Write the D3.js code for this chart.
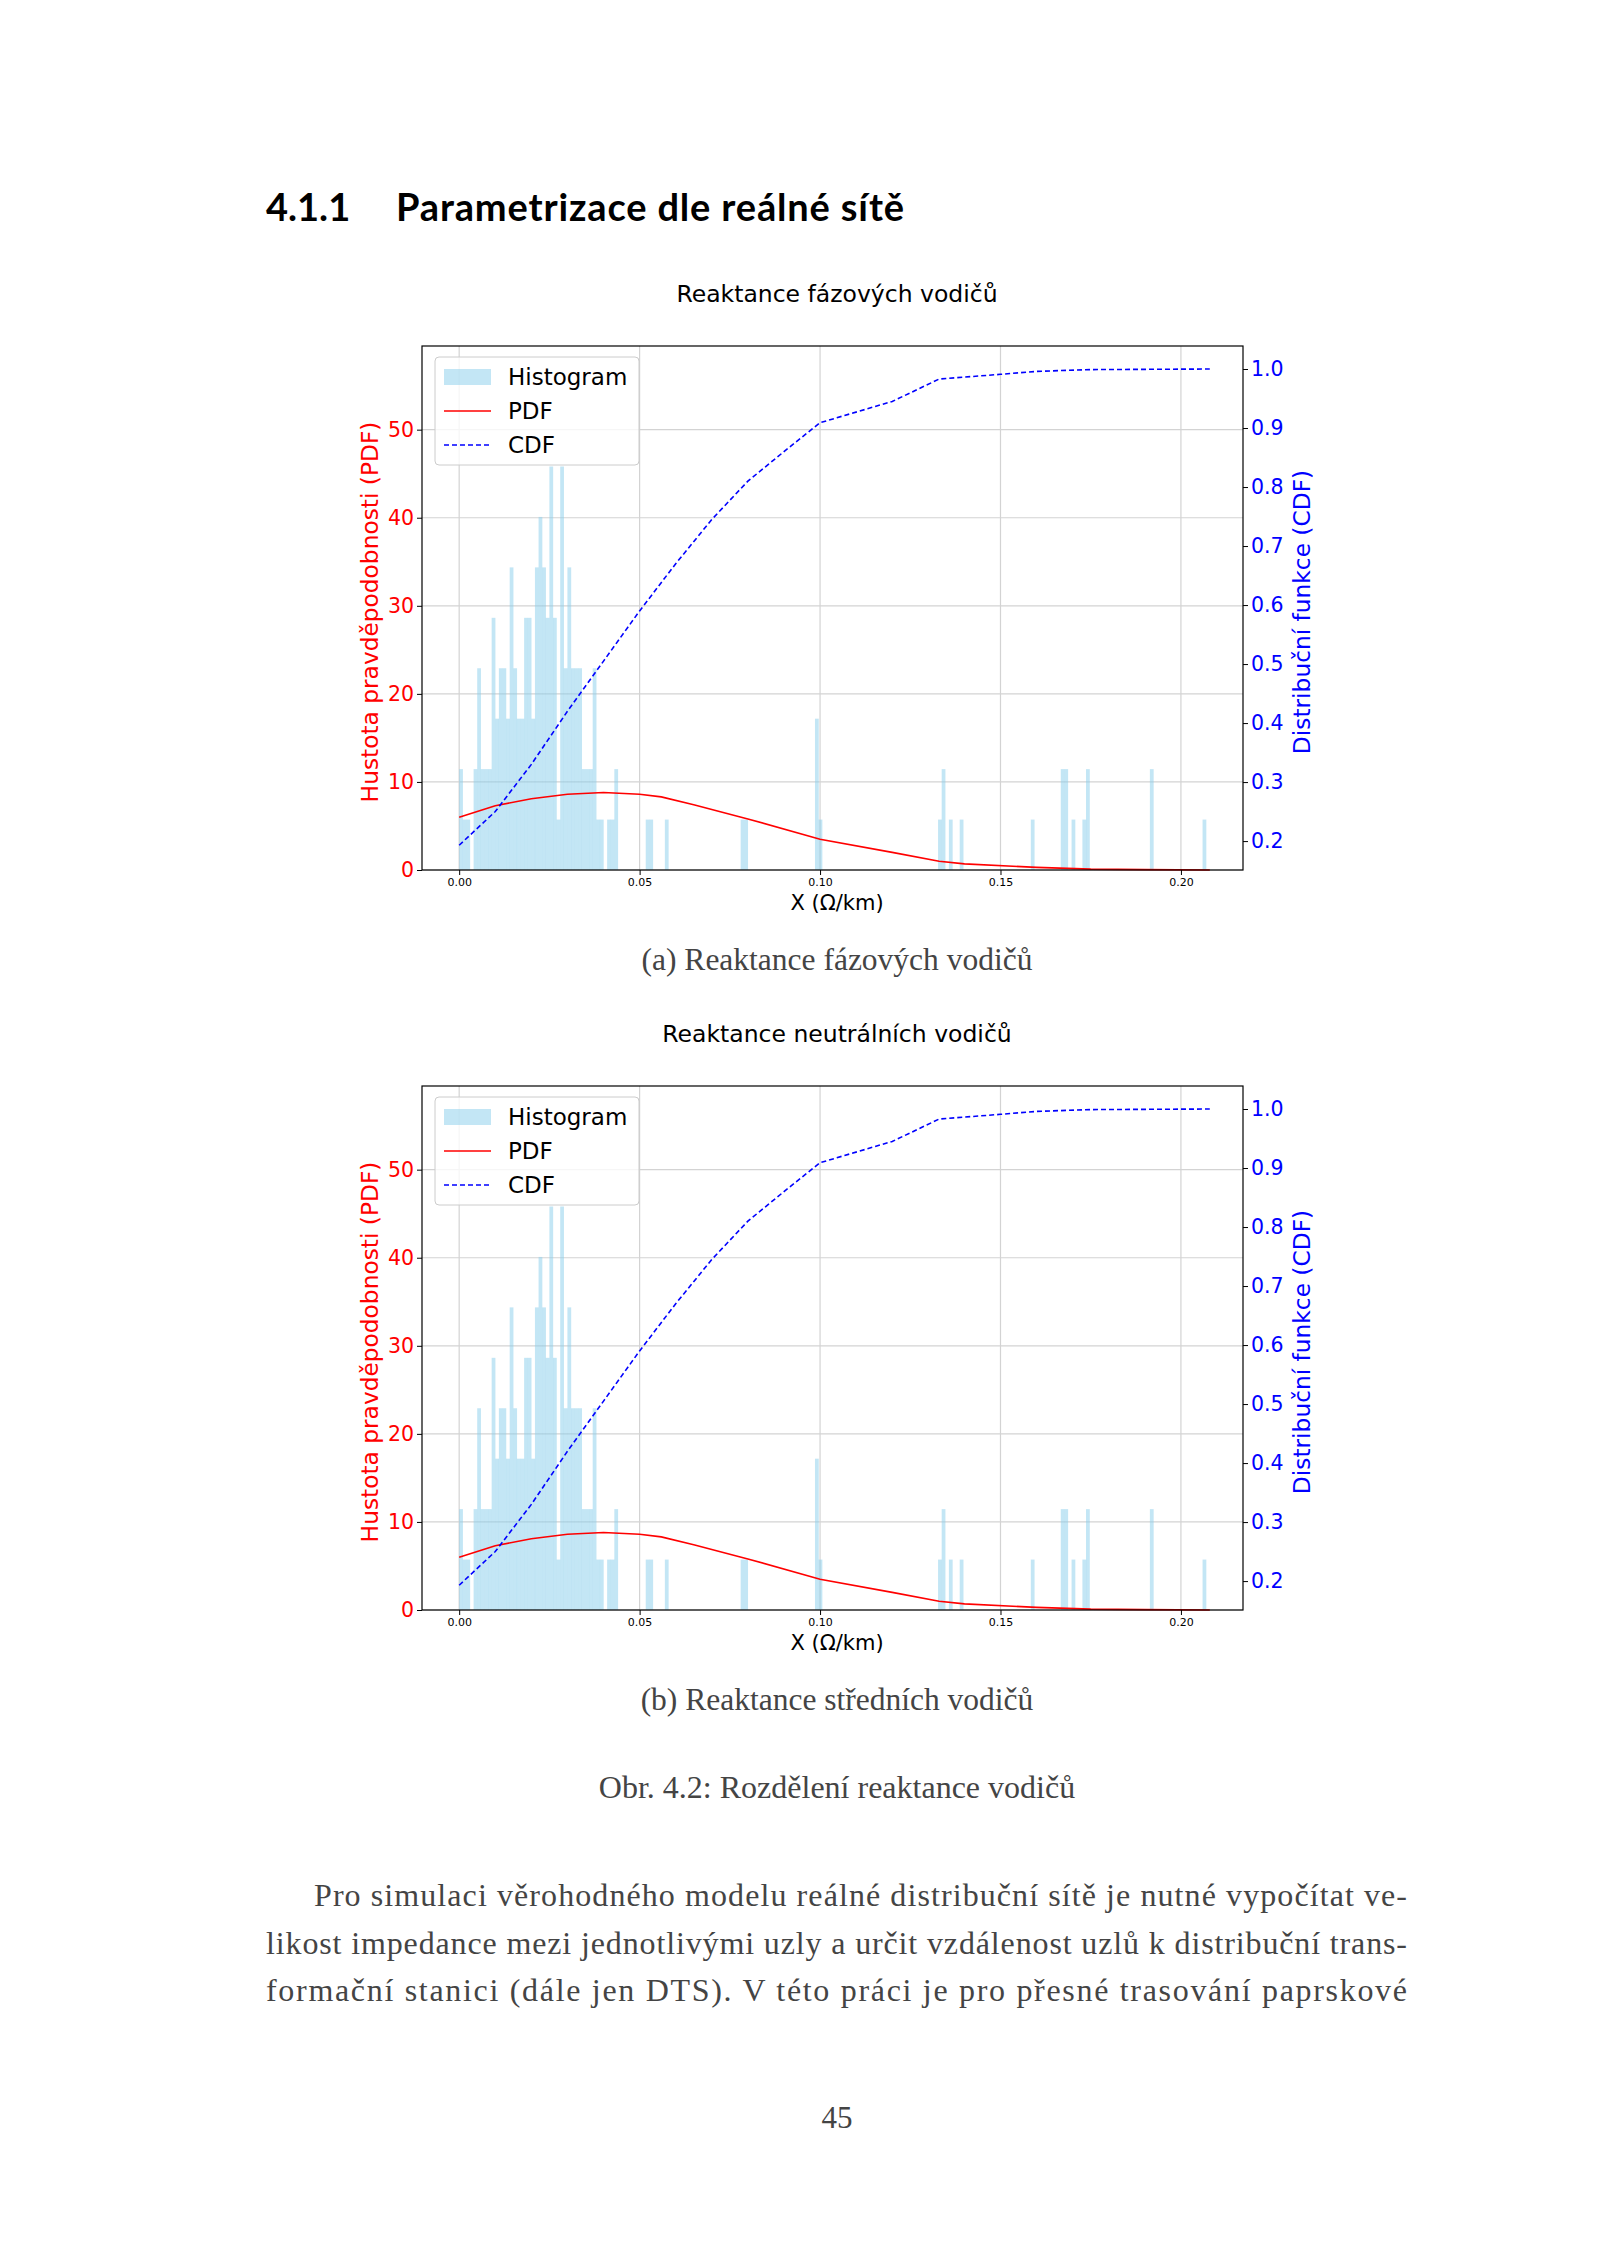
<!DOCTYPE html>
<html><head><meta charset="utf-8">
<script src="https://cdnjs.cloudflare.com/ajax/libs/d3/7.8.5/d3.min.js"></script>
<style>body{margin:0;background:#fff}svg{display:block}</style>
</head><body>
<script>
// histogram: left edges (Ω/km) and counts in units of one sample
var histX0 = [0,0.001,0.002,0.004,0.005,0.006,0.007,0.008,0.009,0.010,0.011,0.012,0.013,0.014,0.015,0.016,0.017,0.018,0.019,0.020,
  0.021,0.022,0.023,0.024,0.025,0.026,0.027,0.028,0.029,0.030,0.031,0.032,0.033,0.034,0.035,0.036,0.037,0.038,0.039,0.041,0.042,0.043,
  0.0517,0.0527,0.057,0.0780,0.0790,0.0986,0.0996,0.1327,0.1337,0.1357,0.1387,0.1584,0.1667,0.1677,0.1697,0.1727,0.1737,0.1914,0.2060];
var histN  = [2,1,1,2,4,2,2,2,5,3,4,4,3,6,4,3,3,5,5,3,
  6,7,6,5,8,5,1,8,4,6,4,4,4,2,2,2,4,1,1,1,1,2,
  1,1,1,1,1,3,1,1,2,1,1,1,2,2,1,1,2,2,1];
var binWidth = 0.00104;
var densityUnit = 5.727;

var pdfX = [0,0.01,0.02,0.03,0.04,0.05,0.056,0.065,0.08,0.1,0.12,0.133,0.14,0.16,0.175,0.19,0.208];
var pdfY = [6.0,7.3,8.1,8.6,8.8,8.6,8.3,7.4,5.8,3.5,2.0,1.0,0.7,0.3,0.1,0.04,0];
var cdfX = [0,0.01,0.02,0.03,0.04,0.05,0.06,0.07,0.08,0.09,0.1,0.12,0.133,0.15,0.16,0.175,0.208];
var cdfY = [0.193,0.25,0.33,0.42,0.505,0.59,0.67,0.745,0.81,0.86,0.909,0.945,0.983,0.991,0.996,0.999,1.0];

var xTicks = [0,0.05,0.10,0.15,0.20];
var yTicks = [0,10,20,30,40,50];
var y2Ticks = [0.2,0.3,0.4,0.5,0.6,0.7,0.8,0.9,1.0];
var legendItems = ["Histogram","PDF","CDF"];

var paraLines = [
  "Pro simulaci věrohodného modelu reálné distribuční sítě je nutné vypočítat ve-",
  "likost impedance mezi jednotlivými uzly a určit vzdálenost uzlů k distribuční trans-",
  "formační stanici (dále jen DTS). V této práci je pro přesné trasování paprskové"
];

var svg = d3.select("body").append("svg").attr("width",1600).attr("height",2263);
var sans = "DejaVu Sans", serif = "Liberation Serif";

svg.append("text").attr("x",266).attr("y",221).attr("font-family","Lato").attr("font-weight","bold")
  .attr("font-size",38).text("4.1.1");
svg.append("text").attr("x",396).attr("y",221).attr("font-family","Lato").attr("font-weight","bold")
  .attr("font-size",38).attr("textLength",508).attr("lengthAdjust","spacing").text("Parametrizace dle reálné sítě");

function chart(top, title, caption) {
  var L = 422, R = 1243, T = top, B = top + 524;
  var x = d3.scaleLinear().domain([-0.0103,0.2172]).range([L,R]);
  var y = d3.scaleLinear().domain([0,59.5]).range([B,T]);
  var y2 = d3.scaleLinear().domain([0.151,1.039]).range([B,T]);
  var g = svg.append("g");

  g.append("text").attr("x",837).attr("y",T-44).attr("text-anchor","middle")
    .attr("font-family",sans).attr("font-size",23.5).text(title);

  // grid
  g.selectAll(".gx").data(xTicks).join("line").attr("x1",x).attr("x2",x).attr("y1",T).attr("y2",B)
    .attr("stroke","#d3d3d3").attr("stroke-width",1.2);
  g.selectAll(".gy").data(yTicks).join("line").attr("y1",y).attr("y2",y).attr("x1",L).attr("x2",R)
    .attr("stroke","#d3d3d3").attr("stroke-width",1.2);

  g.selectAll(".bar").data(histX0).join("rect")
    .attr("x",function(d){return x(d);})
    .attr("width",function(d){return x(d+binWidth)-x(d);})
    .attr("y",function(d,i){return y(histN[i]*densityUnit);})
    .attr("height",function(d,i){return B-y(histN[i]*densityUnit);})
    .attr("fill","#87ceeb").attr("fill-opacity",0.5);

  g.append("path").datum(pdfX).attr("fill","none").attr("stroke","red").attr("stroke-width",1.6)
    .attr("d",d3.line().x(function(d){return x(d);}).y(function(d,i){return y(pdfY[i]);}));
  g.append("path").datum(cdfX).attr("fill","none").attr("stroke","blue").attr("stroke-width",1.6)
    .attr("stroke-dasharray","5,3")
    .attr("d",d3.line().x(function(d){return x(d);}).y(function(d,i){return y2(cdfY[i]);}));

  g.append("rect").attr("x",L).attr("y",T).attr("width",R-L).attr("height",B-T)
    .attr("fill","none").attr("stroke","#000").attr("stroke-width",1.2);

  var ax = g.append("g").attr("transform","translate(0,"+B+")")
    .call(d3.axisBottom(x).tickValues(xTicks).tickFormat(d3.format(".2f")).tickSizeOuter(0).tickSize(5));
  ax.select(".domain").remove();
  ax.selectAll("text").attr("font-family",sans).attr("font-size",11);
  var ay = g.append("g").attr("transform","translate("+L+",0)")
    .call(d3.axisLeft(y).tickValues(yTicks).tickSizeOuter(0).tickSize(5));
  ay.select(".domain").remove();
  ay.selectAll("text").attr("font-family",sans).attr("font-size",20.5).attr("fill","red");
  var ay2 = g.append("g").attr("transform","translate("+R+",0)")
    .call(d3.axisRight(y2).tickValues(y2Ticks).tickFormat(d3.format(".1f")).tickSizeOuter(0).tickSize(5));
  ay2.select(".domain").remove();
  ay2.selectAll("text").attr("font-family",sans).attr("font-size",20.5).attr("fill","blue");

  g.append("text").attr("x",837).attr("y",B+40).attr("text-anchor","middle")
    .attr("font-family",sans).attr("font-size",21).text("X (Ω/km)");
  g.append("text").attr("transform","translate(378,"+((T+B)/2+4)+") rotate(-90)").attr("text-anchor","middle")
    .attr("font-family",sans).attr("font-size",23.3).attr("fill","red").text("Hustota pravděpodobnosti (PDF)");
  g.append("text").attr("transform","translate(1310,"+((T+B)/2+4)+") rotate(-90)").attr("text-anchor","middle")
    .attr("font-family",sans).attr("font-size",23.3).attr("fill","blue").text("Distribuční funkce (CDF)");

  // legend
  var lg = g.append("g").attr("transform","translate("+(L+13)+","+(T+11)+")");
  lg.append("rect").attr("width",204).attr("height",108).attr("rx",4).attr("fill","#fff")
    .attr("fill-opacity",0.8).attr("stroke","#ccc");
  legendItems.forEach(function(name,i){
    var cy = 20 + i*34;
    if (i===0) lg.append("rect").attr("x",9).attr("y",cy-8).attr("width",47).attr("height",16)
      .attr("fill","#87ceeb").attr("fill-opacity",0.5);
    else lg.append("line").attr("x1",9).attr("x2",56).attr("y1",cy).attr("y2",cy)
      .attr("stroke",i===1?"red":"blue").attr("stroke-width",1.6).attr("stroke-dasharray",i===2?"5,3":null);
    lg.append("text").attr("x",73).attr("y",cy+8).attr("font-family",sans).attr("font-size",23).text(name);
  });

  svg.append("text").attr("x",837).attr("y",B+100).attr("text-anchor","middle")
    .attr("font-family",serif).attr("font-size",31.5).attr("fill","#444").text(caption);
}

chart(346,"Reaktance fázových vodičů","(a) Reaktance fázových vodičů");
chart(1086,"Reaktance neutrálních vodičů","(b) Reaktance středních vodičů");

svg.append("text").attr("x",837).attr("y",1798).attr("text-anchor","middle")
  .attr("font-family",serif).attr("font-size",32).attr("fill","#444").text("Obr. 4.2: Rozdělení reaktance vodičů");

paraLines.forEach(function(t,i){
  var x0 = i===0 ? 314 : 266;
  svg.append("text").attr("x",x0).attr("y",1906+i*47.5).attr("font-family",serif).attr("font-size",32)
    .attr("fill","#444").attr("textLength",1407-x0).attr("lengthAdjust","spacing").text(t);
});
svg.append("text").attr("x",837).attr("y",2128).attr("text-anchor","middle")
  .attr("font-family",serif).attr("font-size",31).attr("fill","#444").text("45");
</script>
</body></html>
